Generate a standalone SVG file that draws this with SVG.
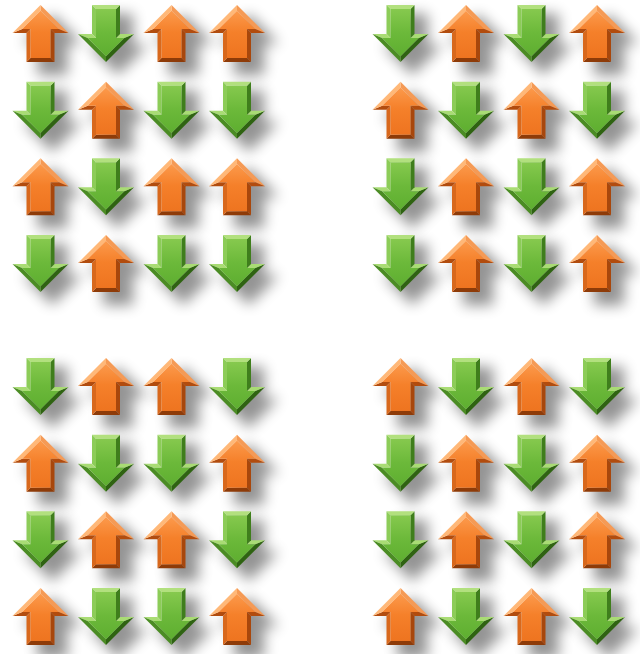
<svg xmlns="http://www.w3.org/2000/svg" width="640" height="654" viewBox="0 0 640 654">
<defs>
<filter id="sh" x="-80%" y="-80%" width="260%" height="260%"><feGaussianBlur stdDeviation="6.5"/></filter>
<linearGradient id="oFace" x1="0" y1="0" x2="0" y2="1"><stop offset="0" stop-color="#fc9a4c"/><stop offset="0.45" stop-color="#f5802a"/><stop offset="1" stop-color="#ee7420"/></linearGradient>
<linearGradient id="gFace" x1="0" y1="0" x2="0" y2="1"><stop offset="0" stop-color="#86c94e"/><stop offset="0.5" stop-color="#6cb93a"/><stop offset="1" stop-color="#5eae30"/></linearGradient>
<g id="up">
<polygon points="0,-28 28,0 14,0 14,29 -14,29 -14,0 -28,0" fill="#000" opacity="0.42" transform="translate(12,11) scale(1.08)" filter="url(#sh)"/>
<polygon points="0,-28 28,0 18.3,-4 0,-22.3" fill="#f59a55"/>
<polygon points="28,0 14,0 10,-4 18.3,-4" fill="#b24c0e"/>
<polygon points="14,0 14,29 10,25 10,-4" fill="#a8470c"/>
<polygon points="14,29 -14,29 -10,25 10,25" fill="#8e3b08"/>
<polygon points="-14,29 -14,0 -10,-4 -10,25" fill="#d8681c"/>
<polygon points="-14,0 -28,0 -18.3,-4 -10,-4" fill="#b24c0e"/>
<polygon points="-28,0 0,-28 0,-22.3 -18.3,-4" fill="#ffb878"/>
<polygon points="0,-22.3 18.3,-4 10,-4 10,25 -10,25 -10,-4 -18.3,-4" fill="url(#oFace)"/>
</g>
<g id="down">
<polygon points="0,28 28,0 14,0 14,-29 -14,-29 -14,0 -28,0" fill="#000" opacity="0.42" transform="translate(12,11) scale(1.08)" filter="url(#sh)"/>
<polygon points="0,28 28,0 18.3,4 0,22.3" fill="#2f6312"/>
<polygon points="28,0 14,0 10,4 18.3,4" fill="#a9dc74"/>
<polygon points="14,0 14,-29 10,-25 10,4" fill="#3f7e1c"/>
<polygon points="14,-29 -14,-29 -10,-25 10,-25" fill="#b2e07e"/>
<polygon points="-14,-29 -14,0 -10,4 -10,-25" fill="#8ccc58"/>
<polygon points="-14,0 -28,0 -18.3,4 -10,4" fill="#a9dc74"/>
<polygon points="-28,0 0,28 0,22.3 -18.3,4" fill="#4b8c24"/>
<polygon points="0,22.3 18.3,4 10,4 10,-25 -10,-25 -10,4 -18.3,4" fill="url(#gFace)"/>
</g>
</defs>
<rect width="640" height="654" fill="#ffffff"/>
<g id="grid-top-left">
<g id="tl-r1-c1"><use href="#up" transform="translate(40.5,33)"/></g>
<g id="tl-r1-c2"><use href="#down" transform="translate(106,34)"/></g>
<g id="tl-r1-c3"><use href="#up" transform="translate(171.5,33)"/></g>
<g id="tl-r1-c4"><use href="#up" transform="translate(237,33)"/></g>
<g id="tl-r2-c1"><use href="#down" transform="translate(40.5,110.7)"/></g>
<g id="tl-r2-c2"><use href="#up" transform="translate(106,109.7)"/></g>
<g id="tl-r2-c3"><use href="#down" transform="translate(171.5,110.7)"/></g>
<g id="tl-r2-c4"><use href="#down" transform="translate(237,110.7)"/></g>
<g id="tl-r3-c1"><use href="#up" transform="translate(40.5,186.3)"/></g>
<g id="tl-r3-c2"><use href="#down" transform="translate(106,187.3)"/></g>
<g id="tl-r3-c3"><use href="#up" transform="translate(171.5,186.3)"/></g>
<g id="tl-r3-c4"><use href="#up" transform="translate(237,186.3)"/></g>
<g id="tl-r4-c1"><use href="#down" transform="translate(40.5,264)"/></g>
<g id="tl-r4-c2"><use href="#up" transform="translate(106,263)"/></g>
<g id="tl-r4-c3"><use href="#down" transform="translate(171.5,264)"/></g>
<g id="tl-r4-c4"><use href="#down" transform="translate(237,264)"/></g>
</g>
<g id="grid-top-right">
<g id="tr-r1-c1"><use href="#down" transform="translate(400.5,34)"/></g>
<g id="tr-r1-c2"><use href="#up" transform="translate(466,33)"/></g>
<g id="tr-r1-c3"><use href="#down" transform="translate(531.5,34)"/></g>
<g id="tr-r1-c4"><use href="#up" transform="translate(597,33)"/></g>
<g id="tr-r2-c1"><use href="#up" transform="translate(400.5,109.7)"/></g>
<g id="tr-r2-c2"><use href="#down" transform="translate(466,110.7)"/></g>
<g id="tr-r2-c3"><use href="#up" transform="translate(531.5,109.7)"/></g>
<g id="tr-r2-c4"><use href="#down" transform="translate(597,110.7)"/></g>
<g id="tr-r3-c1"><use href="#down" transform="translate(400.5,187.3)"/></g>
<g id="tr-r3-c2"><use href="#up" transform="translate(466,186.3)"/></g>
<g id="tr-r3-c3"><use href="#down" transform="translate(531.5,187.3)"/></g>
<g id="tr-r3-c4"><use href="#up" transform="translate(597,186.3)"/></g>
<g id="tr-r4-c1"><use href="#down" transform="translate(400.5,264)"/></g>
<g id="tr-r4-c2"><use href="#up" transform="translate(466,263)"/></g>
<g id="tr-r4-c3"><use href="#down" transform="translate(531.5,264)"/></g>
<g id="tr-r4-c4"><use href="#up" transform="translate(597,263)"/></g>
</g>
<g id="grid-bottom-left">
<g id="bl-r1-c1"><use href="#down" transform="translate(40.5,387)"/></g>
<g id="bl-r1-c2"><use href="#up" transform="translate(106,386)"/></g>
<g id="bl-r1-c3"><use href="#up" transform="translate(171.5,386)"/></g>
<g id="bl-r1-c4"><use href="#down" transform="translate(237,387)"/></g>
<g id="bl-r2-c1"><use href="#up" transform="translate(40.5,462.7)"/></g>
<g id="bl-r2-c2"><use href="#down" transform="translate(106,463.7)"/></g>
<g id="bl-r2-c3"><use href="#down" transform="translate(171.5,463.7)"/></g>
<g id="bl-r2-c4"><use href="#up" transform="translate(237,462.7)"/></g>
<g id="bl-r3-c1"><use href="#down" transform="translate(40.5,540.3)"/></g>
<g id="bl-r3-c2"><use href="#up" transform="translate(106,539.3)"/></g>
<g id="bl-r3-c3"><use href="#up" transform="translate(171.5,539.3)"/></g>
<g id="bl-r3-c4"><use href="#down" transform="translate(237,540.3)"/></g>
<g id="bl-r4-c1"><use href="#up" transform="translate(40.5,616)"/></g>
<g id="bl-r4-c2"><use href="#down" transform="translate(106,617)"/></g>
<g id="bl-r4-c3"><use href="#down" transform="translate(171.5,617)"/></g>
<g id="bl-r4-c4"><use href="#up" transform="translate(237,616)"/></g>
</g>
<g id="grid-bottom-right">
<g id="br-r1-c1"><use href="#up" transform="translate(400.5,386)"/></g>
<g id="br-r1-c2"><use href="#down" transform="translate(466,387)"/></g>
<g id="br-r1-c3"><use href="#up" transform="translate(531.5,386)"/></g>
<g id="br-r1-c4"><use href="#down" transform="translate(597,387)"/></g>
<g id="br-r2-c1"><use href="#down" transform="translate(400.5,463.7)"/></g>
<g id="br-r2-c2"><use href="#up" transform="translate(466,462.7)"/></g>
<g id="br-r2-c3"><use href="#down" transform="translate(531.5,463.7)"/></g>
<g id="br-r2-c4"><use href="#up" transform="translate(597,462.7)"/></g>
<g id="br-r3-c1"><use href="#down" transform="translate(400.5,540.3)"/></g>
<g id="br-r3-c2"><use href="#up" transform="translate(466,539.3)"/></g>
<g id="br-r3-c3"><use href="#down" transform="translate(531.5,540.3)"/></g>
<g id="br-r3-c4"><use href="#up" transform="translate(597,539.3)"/></g>
<g id="br-r4-c1"><use href="#up" transform="translate(400.5,616)"/></g>
<g id="br-r4-c2"><use href="#down" transform="translate(466,617)"/></g>
<g id="br-r4-c3"><use href="#up" transform="translate(531.5,616)"/></g>
<g id="br-r4-c4"><use href="#down" transform="translate(597,617)"/></g>
</g>
</svg>
